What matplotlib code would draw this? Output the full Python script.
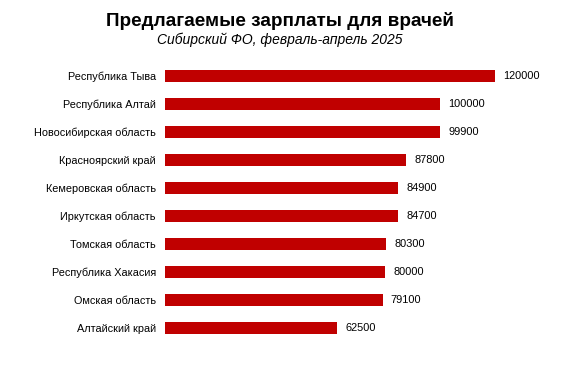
#!/usr/bin/env python

from matplotlib import pyplot as plt

plt.rcParams['font.family'] = ['Liberation Sans', 'DejaVu Sans']

regions = [
    'Республика Тыва', 'Республика Алтай', 'Новосибирская область',
    'Красноярский край', 'Кемеровская область', 'Иркутская область',
    'Томская область', 'Республика Хакасия', 'Омская область', 'Алтайский край',
]
salaries = [120000, 100000, 99900, 87800, 84900, 84700, 80300, 80000, 79100, 62500]

fig = plt.figure(figsize=(5.65, 3.78), dpi=100)
ax = fig.add_axes([165 / 565, 1 - 342 / 378, 380 / 565, 280 / 378])

y = list(range(len(regions)))
ax.barh(y, salaries, height=0.43, color='#c00000')
ax.set_xlim(0, 120000 * 380 / 330)
ax.set_ylim(len(regions) - 0.5, -0.5)
ax.set_yticks(y)
ax.set_yticklabels(regions, fontsize=7.8)
ax.tick_params(axis='y', length=0, pad=6.5)
ax.set_xticks([])
for s in ax.spines.values():
    s.set_visible(False)

for yi, v in zip(y, salaries):
    ax.annotate(str(v), (v, yi), xytext=(6, 0), textcoords='offset points',
                va='center', ha='left', fontsize=7.9)

fig.text(0.496, 1 - 21 / 378, 'Предлагаемые зарплаты для врачей', ha='center', va='center',
         fontsize=13.6, fontweight='bold')
fig.text(0.496, 1 - 40 / 378, 'Сибирский ФО, февраль-апрель 2025', ha='center', va='center',
         fontsize=10, style='italic')

fig.savefig('out.png')
